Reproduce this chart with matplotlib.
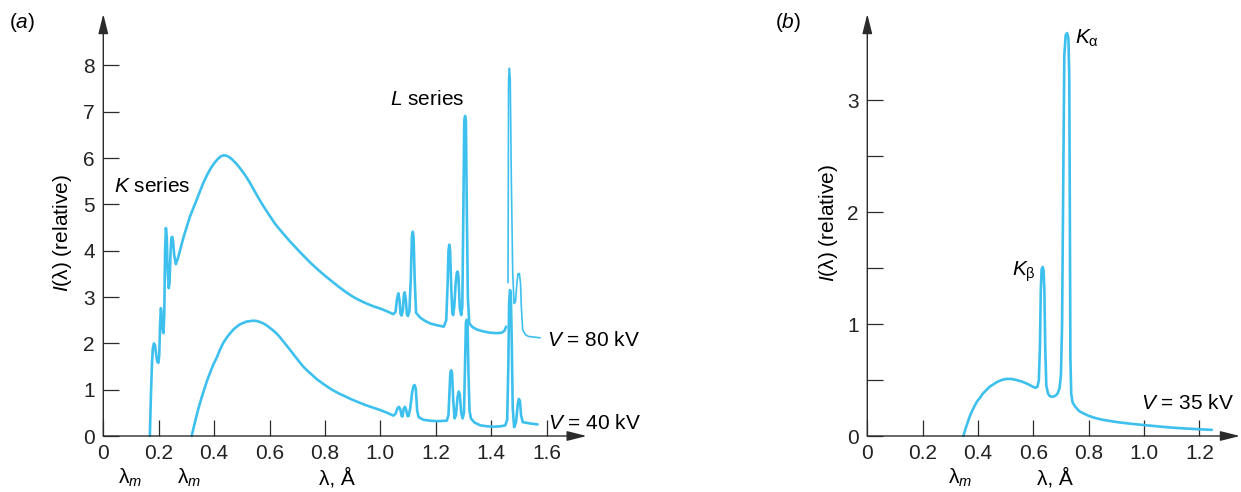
import numpy as np
import matplotlib
matplotlib.use("Agg")
import matplotlib.pyplot as plt

plt.rcParams['font.family'] = ['Liberation Sans', 'DejaVu Sans']
plt.rcParams['mathtext.fontset'] = 'custom'
plt.rcParams['mathtext.rm'] = 'Liberation Sans'
plt.rcParams['mathtext.it'] = 'Liberation Sans:italic'
plt.rcParams['mathtext.bf'] = 'Liberation Sans:bold'

BLUE = '#3EC0EE'
INK = '#2b2b2b'
FS = 15

# ---- panel (a): V = 80 kV (thick part, up to the gap near 1.45 A)
x80 = [0.168, 0.172, 0.176, 0.179, 0.183, 0.187, 0.191, 0.195, 0.199, 0.202,
       0.205, 0.208, 0.211, 0.214, 0.217, 0.220, 0.223, 0.226, 0.229, 0.232,
       0.236, 0.239, 0.243, 0.246, 0.249, 0.252, 0.256, 0.262, 0.270, 0.290,
       0.313, 0.337, 0.360, 0.375, 0.390, 0.403, 0.415, 0.425, 0.435, 0.445,
       0.455, 0.467, 0.480, 0.495, 0.510, 0.527, 0.545, 0.560, 0.578, 0.600,
       0.620, 0.645, 0.674, 0.710, 0.746, 0.775, 0.800, 0.825, 0.850, 0.875,
       0.900, 0.925, 0.950, 0.975, 1.000, 1.025, 1.047,
       1.055, 1.060, 1.065, 1.069, 1.073, 1.077, 1.081, 1.085, 1.088,
       1.092, 1.096, 1.100, 1.105, 1.110, 1.114, 1.117, 1.120, 1.124, 1.129,
       1.143, 1.160, 1.180, 1.205, 1.229, 1.238, 1.243, 1.246, 1.249, 1.252, 1.256, 1.260,
       1.263, 1.267, 1.272, 1.276, 1.279, 1.282, 1.287, 1.292, 1.296, 1.300,
       1.303, 1.306, 1.309, 1.312, 1.316, 1.321, 1.333, 1.348, 1.370, 1.396,
       1.420, 1.438, 1.448, 1.454]
y80 = [0.00, 0.90, 1.60, 1.90, 2.00, 1.95, 1.75, 1.60, 1.58, 1.75,
       2.40, 2.76, 2.60, 2.30, 2.22, 2.60, 4.00, 4.49, 4.30, 3.60,
       3.19, 3.30, 4.00, 4.28, 4.30, 4.20, 3.90, 3.71, 3.85, 4.30,
       4.74, 5.10, 5.45, 5.64, 5.80, 5.91, 5.99, 6.04, 6.06, 6.05,
       6.02, 5.96, 5.88, 5.77, 5.65, 5.49, 5.30, 5.14, 4.96, 4.76,
       4.58, 4.40, 4.20, 3.97, 3.75, 3.59, 3.46, 3.34, 3.22, 3.11,
       3.01, 2.93, 2.86, 2.80, 2.75, 2.69, 2.63,
       2.68, 2.95, 3.08, 2.95, 2.63, 2.60, 2.70, 3.05, 3.10,
       2.95, 2.62, 2.59, 2.70, 3.40, 4.30, 4.41, 4.30, 3.40, 2.66,
       2.56, 2.49, 2.43, 2.39, 2.36, 2.50, 3.30, 4.00, 4.13, 4.00, 3.20, 2.65,
       2.61, 2.80, 3.30, 3.52, 3.55, 3.45, 2.75, 2.61, 2.80, 5.00,
       6.80, 6.91, 6.80, 5.00, 3.00, 2.43, 2.35, 2.30, 2.26, 2.23,
       2.22, 2.23, 2.27, 2.36]

# V = 80 kV, thin part after the gap
x80t = [1.461, 1.462, 1.463, 1.466, 1.469, 1.473, 1.478, 1.483, 1.488, 1.493,
        1.497, 1.502, 1.506, 1.509, 1.514, 1.525, 1.535, 1.577]
y80t = [3.31, 5.50, 7.70, 7.94, 7.70, 5.50, 3.50, 2.86, 2.90, 3.30,
        3.50, 3.51, 3.30, 2.80, 2.29, 2.18, 2.15, 2.12]

# V = 40 kV
x40 = [0.319, 0.326, 0.333, 0.341, 0.349, 0.357, 0.365, 0.375, 0.385, 0.397,
       0.410, 0.421, 0.433, 0.445, 0.458, 0.470, 0.482, 0.493, 0.505, 0.517,
       0.530, 0.542, 0.555, 0.566, 0.578, 0.589, 0.600, 0.613, 0.626, 0.638,
       0.650, 0.662, 0.674, 0.687, 0.700, 0.712, 0.723, 0.735, 0.746, 0.772,
       0.800, 0.825, 0.850, 0.875, 0.900, 0.925, 0.950, 0.975, 1.000, 1.025,
       1.047, 1.055, 1.062, 1.067, 1.072,
       1.077, 1.080, 1.084, 1.089, 1.093, 1.098, 1.102, 1.108, 1.115, 1.120,
       1.124, 1.128, 1.133, 1.138, 1.155, 1.180, 1.204, 1.240, 1.246, 1.250, 1.253,
       1.256, 1.259, 1.263, 1.268, 1.273, 1.279, 1.283, 1.287, 1.292, 1.297,
       1.302, 1.306, 1.309, 1.312, 1.315, 1.318, 1.322, 1.327, 1.340, 1.361, 1.385, 1.410,
       1.435, 1.451, 1.458, 1.462, 1.465, 1.468, 1.471, 1.474, 1.478, 1.483, 1.490,
       1.496, 1.500, 1.504, 1.508, 1.514, 1.541, 1.568]
y40 = [0.00, 0.18, 0.35, 0.54, 0.71, 0.87, 1.02, 1.20, 1.36, 1.54,
       1.70, 1.86, 2.01, 2.12, 2.22, 2.30, 2.36, 2.41, 2.44, 2.47,
       2.48, 2.49, 2.48, 2.46, 2.43, 2.39, 2.34, 2.28, 2.21, 2.13,
       2.04, 1.95, 1.86, 1.76, 1.66, 1.57, 1.49, 1.42, 1.36, 1.22,
       1.10, 1.00, 0.92, 0.85, 0.78, 0.72, 0.66, 0.61, 0.56, 0.50,
       0.44, 0.48, 0.60, 0.63, 0.58,
       0.43, 0.42, 0.58, 0.63, 0.57, 0.43, 0.43, 0.60, 0.95, 1.08,
       1.10, 1.02, 0.55, 0.41, 0.35, 0.33, 0.32, 0.33, 0.45, 1.00, 1.38,
       1.42, 1.35, 0.80, 0.38, 0.45, 0.85, 0.96, 0.90, 0.50, 0.38,
       0.50, 1.60, 2.45, 2.51, 2.40, 1.40, 0.55, 0.38, 0.29, 0.23, 0.21, 0.20,
       0.21, 0.23, 0.35, 1.50, 2.90, 3.15, 3.10, 2.20, 0.60, 0.19, 0.30,
       0.68, 0.80, 0.76, 0.45, 0.30, 0.27, 0.25]

# ---- panel (b): V = 35 kV
x35 = [0.347, 0.352, 0.357, 0.364, 0.371, 0.380, 0.388, 0.397, 0.407, 0.418,
       0.430, 0.442, 0.455, 0.467, 0.480, 0.492, 0.503, 0.520,
       0.539, 0.560, 0.575, 0.595, 0.607, 0.615, 0.620, 0.624, 0.627, 0.630,
       0.634, 0.637, 0.640, 0.643, 0.647, 0.653, 0.660, 0.670, 0.680, 0.688,
       0.695, 0.700, 0.704, 0.708, 0.712, 0.717, 0.722, 0.727, 0.730, 0.732,
       0.734, 0.737, 0.742, 0.752, 0.767, 0.783, 0.800, 0.825, 0.850, 0.875,
       0.900, 0.950, 1.000, 1.050, 1.100, 1.150, 1.200, 1.245]
y35 = [0.00, 0.04, 0.08, 0.13, 0.18, 0.23, 0.27, 0.31, 0.34, 0.38,
       0.41, 0.44, 0.46, 0.48, 0.495, 0.505, 0.51, 0.51,
       0.50, 0.485, 0.47, 0.445, 0.43, 0.44, 0.50, 0.80, 1.30, 1.49,
       1.51, 1.48, 1.30, 0.80, 0.45, 0.38, 0.355, 0.35, 0.36, 0.38,
       0.43, 0.55, 1.00, 2.20, 3.40, 3.58, 3.60, 3.55, 3.20, 2.00,
       0.70, 0.38, 0.30, 0.26, 0.22, 0.20, 0.18, 0.16, 0.145, 0.135,
       0.125, 0.11, 0.098, 0.086, 0.075, 0.067, 0.06, 0.055]

xticks_a = [0, 0.2, 0.4, 0.6, 0.8, 1.0, 1.2, 1.4, 1.6]
yticks_a = [0, 1, 2, 3, 4, 5, 6, 7, 8]
xticks_b = [0, 0.2, 0.4, 0.6, 0.8, 1.0, 1.2]
yticks_b = [0, 0.5, 1, 1.5, 2, 2.5, 3]
ylabels_b = ['0', '', '1', '', '2', '', '3']

W, H = 1241, 492
fig = plt.figure(figsize=(W / 100, H / 100), dpi=100)

ax1 = fig.add_axes([103.3 / W, (H - 436) / H, 483.4 / W, 422 / H])
ax2 = fig.add_axes([867.3 / W, (H - 436) / H, 372.7 / W, 422 / H])


def style_axes(ax, xmax, ymax, xt, yt, ytl=None):
    ax.set_xlim(0, xmax)
    ax.set_ylim(0, ymax)
    for s in ax.spines.values():
        s.set_visible(False)
    ax.patch.set_alpha(0)
    arrow = dict(arrowstyle='-|>,head_length=1.2,head_width=0.3',
                 color=INK, lw=1.0, mutation_scale=10, shrinkA=0, shrinkB=0)
    ax.annotate('', xy=(1, 0), xytext=(0, 0), xycoords='axes fraction',
                arrowprops=arrow, annotation_clip=False)
    ax.annotate('', xy=(0, 1), xytext=(0, 0), xycoords='axes fraction',
                arrowprops=arrow, annotation_clip=False)
    ax.set_xticks(xt)
    ax.set_xticklabels(['0' if v == 0 else '%.1f' % v for v in xt])
    ax.set_yticks(yt)
    if ytl is not None:
        ax.set_yticklabels(ytl)
    ax.tick_params(direction='in', length=11.5, width=0.9, color=INK,
                   labelcolor='#222222', labelsize=FS, pad=6)


style_axes(ax1, 1.745, 9.11, xticks_a, yticks_a)
style_axes(ax2, 1.347, 3.77, xticks_b, yticks_b, ylabels_b)

lk = dict(color=BLUE, solid_joinstyle='round', solid_capstyle='round', clip_on=False)
ax1.plot(x80, y80, lw=1.9, **lk)
ax1.plot(x80t, y80t, lw=1.2, **lk)
ax1.plot(x40, y40, lw=1.9, **lk)
ax2.plot(x35, y35, lw=1.9, **lk)

# annotations, panel (a)
ax1.text(0.04, 5.38, '$K$ series', fontsize=FS, ha='left', va='center')
ax1.text(1.035, 7.26, '$L$ series', fontsize=FS, ha='left', va='center')
ax1.text(1.602, 2.07, '$V$ = 80 kV', fontsize=FS, ha='left', va='center')
ax1.text(1.605, 0.28, '$V$ = 40 kV', fontsize=FS, ha='left', va='center')
ax1.text(0.095, -1.04, 'λ$_m$', fontsize=FS, ha='center', va='baseline')
ax1.text(0.308, -1.04, 'λ$_m$', fontsize=FS, ha='center', va='baseline')
ax1.text(0.845, -1.04, 'λ, Å', fontsize=FS, ha='center', va='baseline')

# annotations, panel (b)
ax2.text(0.989, 0.286, '$V$ = 35 kV', fontsize=FS, ha='left', va='center')
ax2.text(0.751, 3.55, '$K_{\\mathrm{α}}$', fontsize=FS, ha='left', va='center')
ax2.text(0.523, 1.47, '$K_{\\mathrm{β}}$', fontsize=FS, ha='left', va='center')
ax2.text(0.335, -0.43, 'λ$_m$', fontsize=FS, ha='center', va='baseline')
ax2.text(0.678, -0.43, 'λ, Å', fontsize=FS, ha='center', va='baseline')

fig.text(63 / W, 1 - 233 / H, '$I$(λ) (relative)', fontsize=FS,
         rotation=90, ha='center', va='center')
fig.text(828 / W, 1 - 223 / H, '$I$(λ) (relative)', fontsize=FS,
         rotation=90, ha='center', va='center')
fig.text(22 / W, 1 - 23 / H, '($a$)', fontsize=FS, ha='center', va='center')
fig.text(788 / W, 1 - 23 / H, '($b$)', fontsize=FS, ha='center', va='center')

fig.savefig('out.png', dpi=100)
